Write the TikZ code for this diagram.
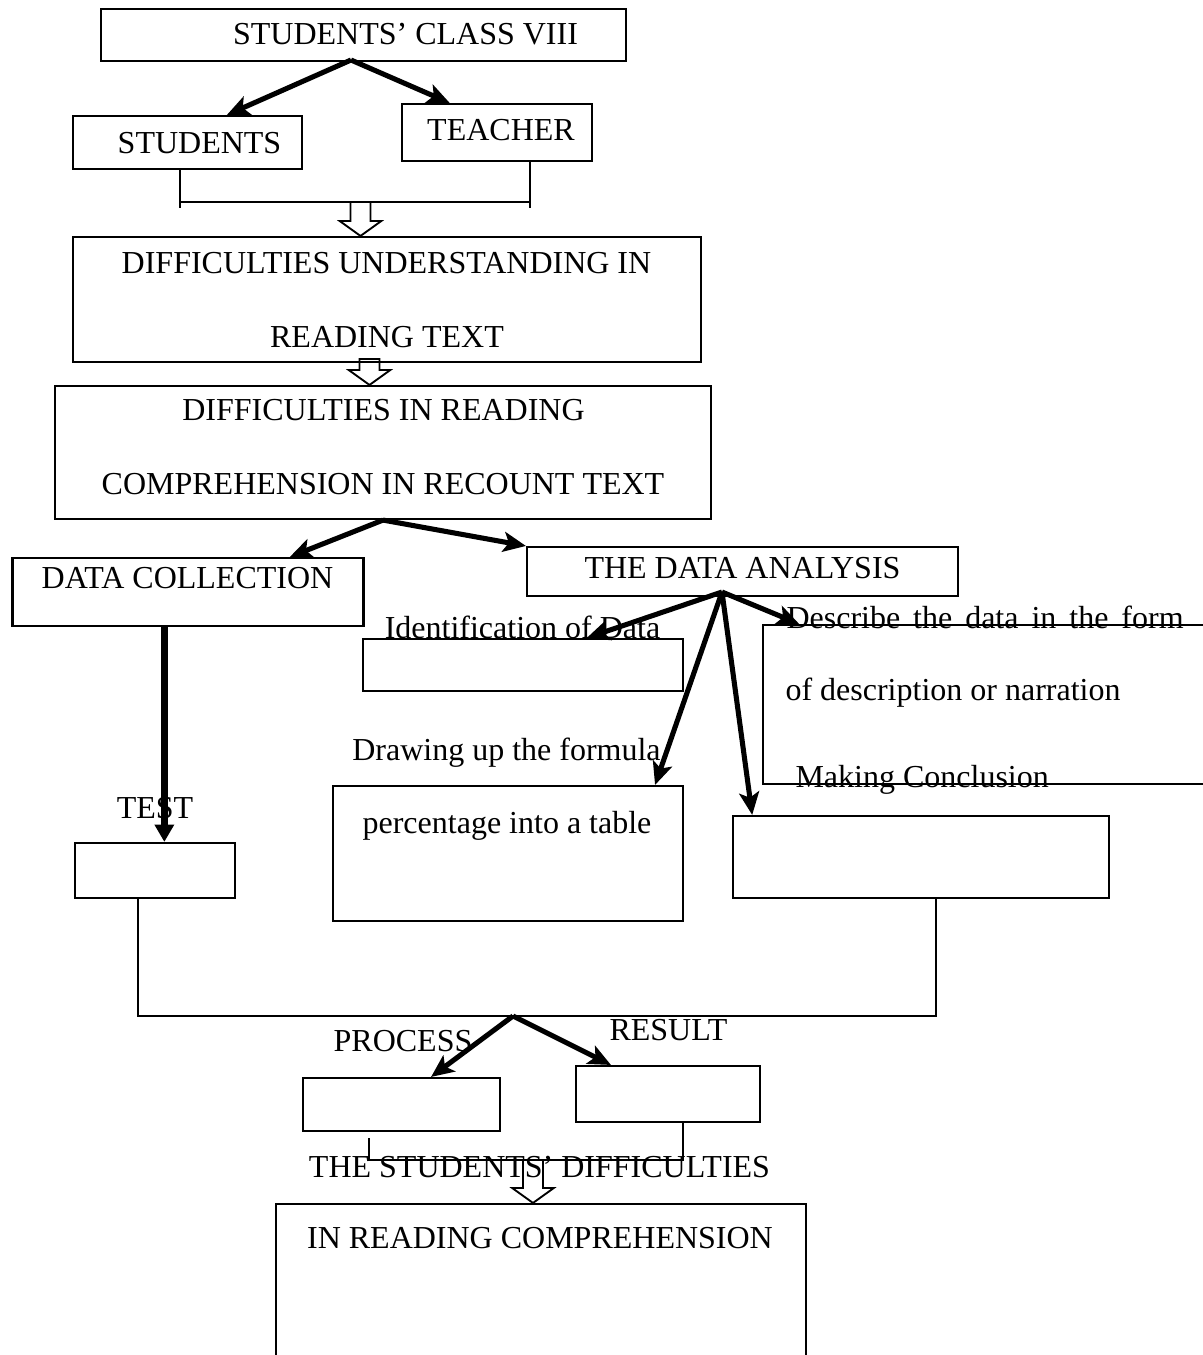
\documentclass[tikz,border=0pt]{standalone}
\usepackage{fontspec}
\setmainfont{Liberation Serif}
\usetikzlibrary{arrows.meta,calc}
\tikzset{
  boxline/.style={draw, line width=0.8pt, inner sep=0pt},
  thinline/.style={line width=0.7pt},
  thickarrow/.style={line width=1.9pt, -{Stealth[length=8.5pt, width=7.5pt, inset=2pt]}},
  testarrow/.style={line width=2.4pt, -{Triangle[length=6.5pt, width=7pt]}},
  hollowline/.style={line width=0.7pt, line join=miter}
}
\newcommand{\flowbox}[4] {\node at (#1) (#2) [rectangle, boxline, minimum width=#3*0.375pt, minimum height=#4*0.375pt] {};}
\newcommand{\flowlabel}[3] {\node at (#1) (#2) [anchor=base, inner sep=0pt] {#3};}
\newcommand{\flowlabelleft}[3] {\node at (#1) (#2) [anchor=base west, inner sep=0pt] {#3};}
\newcommand{\splitarrow}[2] {\draw [thickarrow] (#1) -- (#2);}
\newcommand{\hollowdown}[2] {\draw [hollowline] let \p1=(#1), \p2=(#2) in (\x1-3.75pt,\y1) -- (\x1-3.75pt,\y2+5.6pt) -- (\x1-7.8pt,\y2+5.6pt) -- (\x1,\y2) -- (\x1+7.8pt,\y2+5.6pt) -- (\x1+3.75pt,\y2+5.6pt) -- (\x1+3.75pt,\y1) -- cycle;}

\begin{document}
\begin{tikzpicture}[x=0.375pt, y=-0.375pt, font=\fontsize{12}{14}\selectfont]
\useasboundingbox (0,0) rectangle (1203,1355);
\clip (0,0) rectangle (1203,1355);
\flowbox{363.5,35}{top}{525}{52}
\flowbox{187.5,142.5}{students}{229}{53}
\flowbox{497,132.5}{teacher}{190}{57}
\flowbox{387,299.5}{understand}{628}{125}
\flowbox{383,452.5}{recount}{656}{133}
\flowbox{188,592}{collection}{351}{68}
\flowbox{742.5,571.5}{analysis}{431}{49}
\flowbox{523,665}{identify}{320}{52}
\flowbox{989,704.5}{describe}{452}{159}
\flowbox{508,853.5}{formula}{350}{135}
\flowbox{921,857}{conclusion}{376}{82}
\flowbox{155,870.5}{test}{160}{55}
\flowbox{401.5,1104.5}{process}{197}{53}
\flowbox{668,1094}{result}{184}{56}
\flowbox{541,1287}{difficulties}{530}{166}

\flowlabel{405.5,44}{top-t}{STUDENTS’ CLASS VIII}
\flowlabel{199.5,153}{students-t}{STUDENTS}
\flowlabel{501,140}{teacher-t}{TEACHER}
\flowlabel{386.5,273}{understand-t1}{DIFFICULTIES UNDERSTANDING IN}
\flowlabel{387,347}{understand-t2}{READING TEXT}
\flowlabel{383.5,420}{recount-t1}{DIFFICULTIES IN READING}
\flowlabel{383,494}{recount-t2}{COMPREHENSION IN RECOUNT TEXT}
\flowlabel{187.5,588}{collection-t}{DATA COLLECTION}
\flowlabel{742.5,578}{analysis-t}{THE DATA ANALYSIS}
\flowlabel{522.5,638}{identify-t}{Identification of Data}
\flowlabelleft{786,628}{describe-t1}{\makebox[148.9pt][s]{Describe the data in the form}}
\flowlabelleft{785,700}{describe-t2}{of description or narration}
\flowlabelleft{795,787}{conclusion-t}{Making Conclusion}
\flowlabel{506.5,760}{formula-t1}{Drawing up the formula}
\flowlabel{507,833}{formula-t2}{percentage into a table}
\flowlabel{155,818}{test-t}{TEST}
\flowlabel{403,1051}{process-t}{PROCESS}
\flowlabel{668.5,1040}{result-t}{RESULT}
\flowlabel{539.5,1177}{difficulties-t1}{THE STUDENTS’ DIFFICULTIES}
\flowlabel{540,1248}{difficulties-t2}{IN READING COMPREHENSION}

\coordinate (s1) at (351,60);
\coordinate (s3) at (722,592);
\coordinate (s4) at (513,1016);
\coordinate (b1l) at (180,208);
\coordinate (b1r) at (530,208);
\coordinate (h1) at (360.5,202);
\coordinate (h2) at (369.5,359);
\coordinate (b2l) at (138,1016);
\coordinate (b2r) at (936,1016);
\coordinate (b3l) at (369,1160);
\coordinate (b3r) at (683,1160);
\coordinate (h3) at (533,1160);

\splitarrow{s1}{students.35}
\splitarrow{s1}{teacher.148}
\draw [thinline] (students.south -| b1l) -- (b1l);
\draw [thinline] (teacher.south -| b1r) -- (b1r);
\draw [thinline] (b1l |- h1) -- (b1r |- h1);
\hollowdown{h1}{h1 |- understand.north}
\hollowdown{h2}{h2 |- recount.north}
\splitarrow{recount.south}{collection.19}
\splitarrow{recount.south}{analysis.north west}
\splitarrow{s3}{identify.23}
\splitarrow{s3}{formula.25}
\splitarrow{s3}{conclusion.166.5}
\splitarrow{s3}{describe.157.4}
\draw [testarrow] (collection.236) -- (collection.236 |- test.north);
\draw [thinline] (test.south -| b2l) -- (b2l) -- (b2r) -- (conclusion.south -| b2r);
\splitarrow{s4}{process.43}
\splitarrow{s4}{result.153}
\draw [thinline] (result.south -| b3r) -- (b3r) -- (b3l) -- ++(0,-22);
\hollowdown{h3}{h3 |- difficulties.north}
\end{tikzpicture}
\end{document}
